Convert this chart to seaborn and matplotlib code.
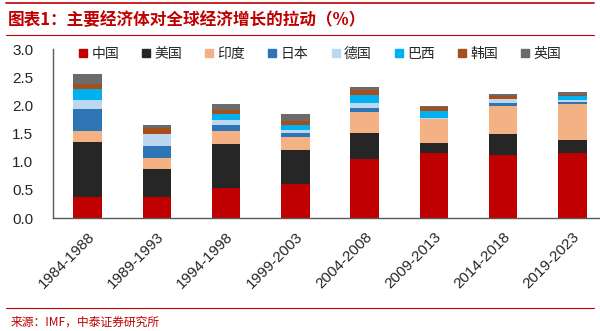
import numpy as np
import pandas as pd
import matplotlib
matplotlib.use("Agg")
import matplotlib.pyplot as plt
from matplotlib.lines import Line2D
import seaborn as sns

periods = ["1984-1988", "1989-1993", "1994-1998", "1999-2003",
           "2004-2008", "2009-2013", "2014-2018", "2019-2023"]
countries = ["中国", "美国", "印度", "日本", "德国", "巴西", "韩国", "英国"]
china   = [0.38, 0.38, 0.54, 0.61, 1.055, 1.15, 1.12, 1.15]
usa     = [0.98, 0.50, 0.77, 0.60, 0.46, 0.18, 0.38, 0.245]
india   = [0.18, 0.18, 0.23, 0.24, 0.375, 0.43, 0.49, 0.63]
japan   = [0.40, 0.22, 0.12, 0.07, 0.06, 0.01, 0.05, 0.04]
germany = [0.16, 0.21, 0.09, 0.05, 0.095, 0.015, 0.08, 0.04]
brazil  = [0.20, 0.01, 0.10, 0.08, 0.145, 0.125, -0.02, 0.06]
korea   = [0.09, 0.10, 0.08, 0.08, 0.09, 0.06, 0.045, 0.03]
uk      = [0.17, 0.05, 0.09, 0.12, 0.046, 0.02, 0.04, 0.05]
series = [china, usa, india, japan, germany, brazil, korea, uk]
colors = ["#C00000", "#262626", "#F4B183", "#2E75B6", "#BDD7EE",
          "#00B0F0", "#A5501C", "#6B6B6B"]

sns.set_theme(style="white")
plt.rcParams['font.family'] = ['Liberation Sans', 'Noto Sans CJK SC', 'DejaVu Sans']

fig = plt.figure(figsize=(6.0, 3.31), dpi=100)
ax = fig.add_axes([0.088, 0.341, 0.91, 0.51])

pos_bottom = np.zeros(len(periods))
neg_bottom = np.zeros(len(periods))
for name, vals, col in zip(countries, series, colors):
    v = np.array(vals, dtype=float)
    bottoms = np.where(v >= 0, pos_bottom, neg_bottom)
    df = pd.DataFrame({"period": periods, "value": v})
    sns.barplot(data=df, x="period", y="value", order=periods, color=col,
                bottom=bottoms, width=0.41, ax=ax, saturation=1,
                linewidth=0, errorbar=None)
    pos_bottom = pos_bottom + np.where(v >= 0, v, 0)
    neg_bottom = neg_bottom + np.where(v < 0, v, 0)

ax.set_ylim(0, 3.0)
ax.set_xlim(-0.5, 7.38)
ax.set_yticks(np.arange(0, 3.01, 0.5))
ax.set_yticklabels([f"{t:.1f}" for t in np.arange(0, 3.01, 0.5)], fontsize=11)
ax.set_xticks(range(len(periods)))
ax.set_xticklabels(periods, rotation=45, ha="right", rotation_mode="anchor",
                   fontsize=11)
ax.tick_params(axis="x", pad=8, length=0)
ax.tick_params(axis="y", pad=14, length=0)
ax.set_xlabel("")
ax.set_ylabel("")
for s in ["top", "right"]:
    ax.spines[s].set_visible(False)
for s in ["left", "bottom"]:
    ax.spines[s].set_color("#595959")
    ax.spines[s].set_linewidth(1.0)

handles = [Line2D([0], [0], marker="s", linestyle="", markersize=6,
                  markerfacecolor=c, markeredgecolor=c) for c in colors]
leg = ax.legend(handles, countries, ncol=8, loc="upper center",
                bbox_to_anchor=(0.488, 1.09), frameon=False,
                handlelength=0.8, handletextpad=0.2, columnspacing=1.55,
                prop={"family": ["Noto Sans CJK SC"], "size": 10})

red = "#C00000"
fig.add_artist(Line2D([0.01, 0.99], [0.992, 0.992], color=red, lw=1.2))
fig.add_artist(Line2D([0.01, 0.99], [0.893, 0.893], color=red, lw=0.8))
fig.text(0.013, 0.94, "图表1：主要经济体对全球经济增长的拉动（%）", color=red,
         fontsize=12, fontweight="bold", va="center", ha="left",
         family=["Noto Sans CJK SC", "DejaVu Sans"])
fig.add_artist(Line2D([0.01, 0.99], [0.068, 0.068], color=red, lw=0.8))
fig.text(0.018, 0.027, "来源：IMF，中泰证券研究所", color=red, fontsize=8.5,
         va="center", ha="left", family=["Noto Sans CJK SC", "DejaVu Sans"])

fig.savefig("out.png", dpi=100)
